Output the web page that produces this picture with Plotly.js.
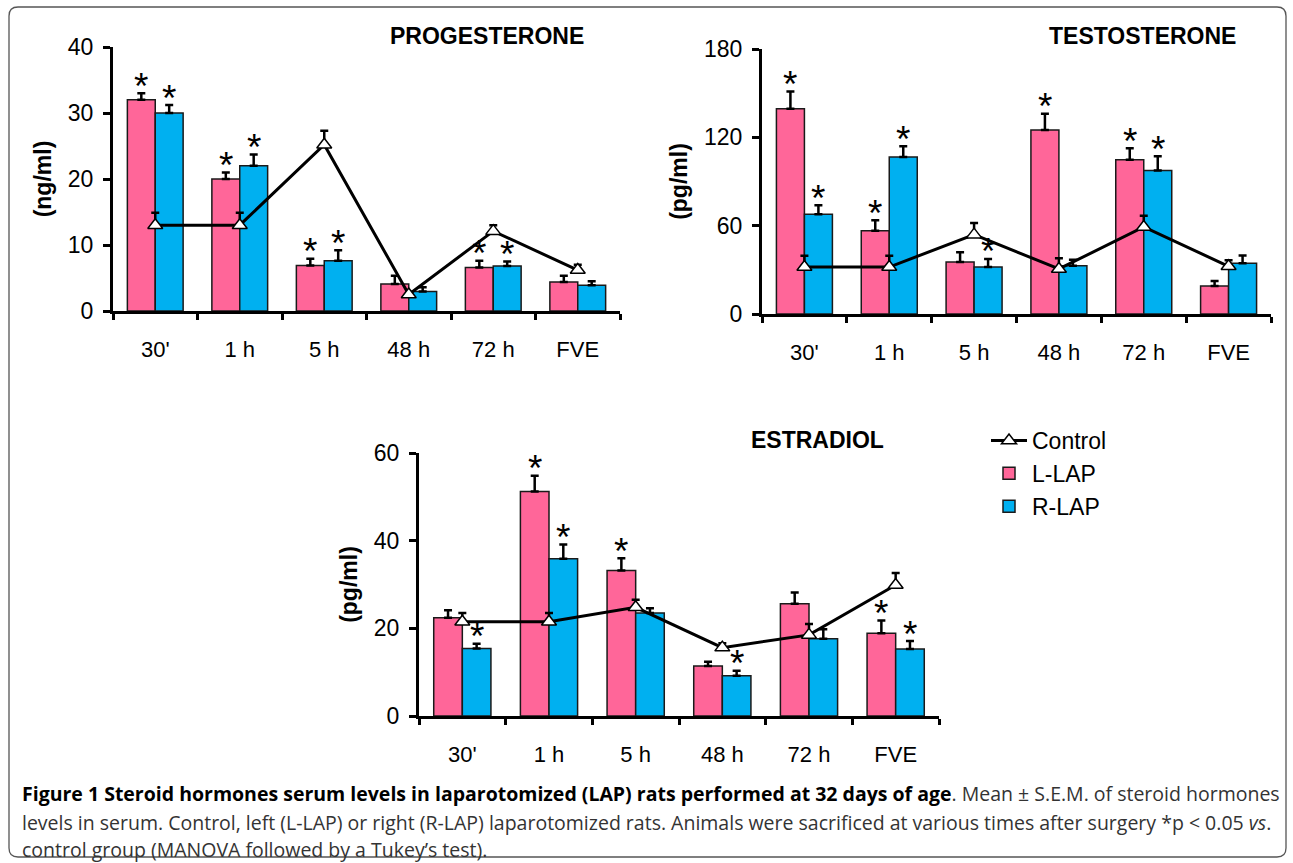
<!DOCTYPE html>
<html>
<head>
<meta charset="utf-8">
<script src="https://cdn.plot.ly/plotly-3.0.1.min.js"></script>
<style>html,body{margin:0;padding:0;background:#fff;}#chart{width:1293px;height:863px;}</style>
</head>
<body>
<div id="chart"></div>
<script>
// ---------- data ----------
const categories = ["30'", "1 h", "5 h", "48 h", "72 h", "FVE"];
const seriesNames = ["Control", "L-LAP", "R-LAP"];
const panelTitles = ["PROGESTERONE", "TESTOSTERONE", "ESTRADIOL"];
const unitLabels = ["(ng/ml)", "(pg/ml)", "(pg/ml)"];
const yTickValues1 = [0, 10, 20, 30, 40];
const yTickValues2 = [0, 60, 120, 180];
const yTickValues3 = [0, 20, 40, 60];

// Progesterone (ng/ml)
const progControl = [13.0, 13.0, 25.2, 2.5, 12.1, 6.2];
const progControlErr = [1.9, 1.9, 2.1, 0.0, 0.9, 0.8];
const progL = [32.0, 20.0, 6.9, 4.1, 6.6, 4.4];
const progLErr = [1.0, 1.0, 1.0, 1.25, 1.0, 0.95];
const progR = [30.0, 22.0, 7.6, 2.95, 6.8, 3.9];
const progRErr = [1.2, 1.7, 1.6, 0.65, 0.7, 0.6];
const progLStar = [1, 1, 1, 0, 1, 0];
const progRStar = [1, 1, 1, 0, 1, 0];

// Testosterone (pg/ml)
const testControl = [31.9, 31.9, 53.9, 30.6, 59.1, 32.4];
const testControlErr = [7.7, 7.7, 7.9, 7.2, 7.7, 4.1];
const testL = [139.5, 56.6, 35.3, 125.0, 104.8, 19.0];
const testLErr = [11.7, 7.0, 6.6, 11.1, 7.7, 3.4];
const testR = [67.7, 106.6, 31.9, 32.8, 97.4, 34.4];
const testRErr = [6.1, 7.3, 5.5, 4.1, 9.7, 5.4];
const testLStar = [1, 1, 0, 1, 1, 0];
const testRStar = [1, 1, 1, 0, 1, 0];

// Estradiol (pg/ml)
const estrControl = [21.5, 21.5, 24.8, 15.6, 18.5, 29.9];
const estrControlErr = [2.0, 2.0, 1.7, 1.0, 2.5, 2.7];
const estrL = [22.4, 51.2, 33.2, 11.4, 25.6, 18.9];
const estrLErr = [1.7, 3.6, 2.8, 1.0, 2.6, 2.9];
const estrR = [15.4, 35.9, 23.5, 9.2, 17.6, 15.3];
const estrRErr = [1.1, 3.2, 1.1, 1.1, 2.2, 1.8];
const estrLStar = [0, 1, 1, 0, 0, 1];
const estrRStar = [1, 1, 0, 1, 0, 1];

const captionBold = "Figure 1 Steroid hormones serum levels in laparotomized (LAP) rats performed at 32 days of age";
const captionLine1 = ". Mean ± S.E.M. of steroid hormones";
const captionLine2 = "levels in serum. Control, left (L-LAP) or right (R-LAP) laparotomized rats. Animals were sacrificed at various times after surgery *p &lt; 0.05 <i>vs</i>.";
const captionLine3 = "control group (MANOVA followed by a Tukey’s test).";

// ---------- styles ----------
const W = 1293, H = 863;
const PINK = '#FF6699', BLUE = '#00B0F0';
const FONT = 'Liberation Sans, Arial, sans-serif';
const BARGAP = 0.34;
const OFF = (1 - BARGAP) / 4;

const px = v => v / W;
const py = v => (H - v) / H;

const panels = [
  {n: '', C: progControl, Ce: progControlErr, L: progL, Le: progLErr, R: progR, Re: progRErr, Ls: progLStar, Rs: progRStar,
   range: [0, 40], ticks: yTickValues1, xd: [113, 620], yd: [311, 47], title: panelTitles[0], tpos: [487, 36], unit: unitLabels[0], legend: true},
  {n: '2', C: testControl, Ce: testControlErr, L: testL, Le: testLErr, R: testR, Re: testRErr, Ls: testLStar, Rs: testRStar,
   range: [0, 180], ticks: yTickValues2, xd: [762, 1271], yd: [314, 49], title: panelTitles[1], tpos: [1142, 36], unit: unitLabels[1], legend: false},
  {n: '3', C: estrControl, Ce: estrControlErr, L: estrL, Le: estrLErr, R: estrR, Re: estrRErr, Ls: estrLStar, Rs: estrRStar,
   range: [0, 60], ticks: yTickValues3, xd: [419, 939], yd: [716, 453], title: panelTitles[2], tpos: [817, 440], unit: unitLabels[2], legend: false}
];

const traces = [];
const annotations = [];
const layout = {
  width: W, height: H,
  margin: {l: 0, r: 0, t: 0, b: 0},
  paper_bgcolor: '#fff', plot_bgcolor: 'rgba(0,0,0,0)',
  font: {family: FONT, color: '#000', size: 20},
  barmode: 'group', bargap: BARGAP, bargroupgap: 0,
  showlegend: true,
  legend: {x: px(986), y: py(419), xanchor: 'left', yanchor: 'top', bgcolor: 'rgba(0,0,0,0)',
           font: {family: FONT, size: 23, color: '#000'}, traceorder: 'normal', itemwidth: 36, tracegroupgap: 0},
  annotations: annotations,
  shapes: []
};

const errStyle = (arr) => ({type: 'data', array: arr, arrayminus: arr.map(() => 0), symmetric: false,
  visible: true, color: '#000', thickness: 2.5, width: 4});

panels.forEach(p => {
  const xa = 'x' + p.n, ya = 'y' + p.n;
  traces.push({type: 'bar', name: seriesNames[1], x: categories, y: p.L, xaxis: xa, yaxis: ya,
    marker: {color: PINK, line: {color: '#1a1a1a', width: 1.5}}, error_y: errStyle(p.Le),
    showlegend: p.legend, legendrank: 2, legendgroup: 'L', hoverinfo: 'skip'});
  traces.push({type: 'bar', name: seriesNames[2], x: categories, y: p.R, xaxis: xa, yaxis: ya,
    marker: {color: BLUE, line: {color: '#1a1a1a', width: 1.5}}, error_y: errStyle(p.Re),
    showlegend: p.legend, legendrank: 3, legendgroup: 'R', hoverinfo: 'skip'});
  traces.push({type: 'scatter', mode: 'lines+markers', name: seriesNames[0], x: categories, y: p.C, xaxis: xa, yaxis: ya,
    line: {color: '#000', width: 3}, marker: {symbol: 'triangle-up', size: 13, color: '#fff', line: {color: '#000', width: 1.5}},
    error_y: errStyle(p.Ce), showlegend: p.legend, legendrank: 1, legendgroup: 'C', hoverinfo: 'skip'});

  layout['xaxis' + p.n] = {domain: [px(p.xd[0]), px(p.xd[1])], anchor: ya, type: 'category',
    showline: true, linecolor: '#000', linewidth: 3, ticks: 'outside', tickson: 'boundaries', ticklen: 6, tickwidth: 3, tickcolor: '#000',
    showgrid: false, zeroline: false, tickfont: {family: FONT, size: 22, color: '#000'}, ticklabelstandoff: 17, fixedrange: true};
  layout['yaxis' + p.n] = {domain: [py(p.yd[0]), py(p.yd[1])], anchor: xa, range: p.range,
    tickmode: 'array', tickvals: p.ticks, showline: true, linecolor: '#000', linewidth: 3, ticks: 'outside', ticklen: 7, tickwidth: 3,
    tickcolor: '#000', showgrid: false, zeroline: false, tickfont: {family: FONT, size: 23, color: '#000'}, ticklabelstandoff: 5,
    title: {text: '<b>' + p.unit + '</b>', font: {family: FONT, size: 23, color: '#000'}, standoff: 10}, fixedrange: true};

  annotations.push({xref: 'paper', yref: 'paper', x: px(p.tpos[0]), y: py(p.tpos[1]), xanchor: 'center', yanchor: 'middle',
    text: '<b>' + p.title + '</b>', showarrow: false, font: {family: FONT, size: 23, color: '#000'}});

  categories.forEach((c, i) => {
    if (p.Ls[i]) annotations.push({xref: xa, yref: ya, x: i - OFF, y: p.L[i] + p.Le[i], text: '*', showarrow: false,
      xanchor: 'center', yanchor: 'middle', yshift: 7, font: {family: FONT, size: 37, color: '#000'}});
    if (p.Rs[i]) annotations.push({xref: xa, yref: ya, x: i + OFF, y: p.R[i] + p.Re[i], text: '*', showarrow: false,
      xanchor: 'center', yanchor: 'middle', yshift: 7, font: {family: FONT, size: 37, color: '#000'}});
  });
});

// caption
const CAP = 'Open Sans, sans-serif';
annotations.push({xref: 'paper', yref: 'paper', x: px(20), y: py(793), xanchor: 'left', yanchor: 'middle', showarrow: false,
  text: '<b>' + captionBold + '</b><span style="color:#333">' + captionLine1 + '</span>', font: {family: CAP, size: 19.5, color: '#000'}});
annotations.push({xref: 'paper', yref: 'paper', x: px(20), y: py(822), xanchor: 'left', yanchor: 'middle', showarrow: false,
  text: captionLine2, font: {family: CAP, size: 19.5, color: '#333'}});
annotations.push({xref: 'paper', yref: 'paper', x: px(20), y: py(849), xanchor: 'left', yanchor: 'middle', showarrow: false,
  text: captionLine3, font: {family: CAP, size: 19.5, color: '#333'}});

// rounded figure border
(function () {
  const x0 = px(9), x1 = px(1286), y0 = py(857), y1 = py(7), rx = px(9), ry = 9 / H;
  const path = `M ${x0 + rx},${y1} L ${x1 - rx},${y1} Q ${x1},${y1} ${x1},${y1 - ry} L ${x1},${y0 + ry} Q ${x1},${y0} ${x1 - rx},${y0} ` +
    `L ${x0 + rx},${y0} Q ${x0},${y0} ${x0},${y0 + ry} L ${x0},${y1 - ry} Q ${x0},${y1} ${x0 + rx},${y1} Z`;
  layout.shapes.push({type: 'path', xref: 'paper', yref: 'paper', path: path, line: {color: '#555', width: 1.3}, layer: 'below'});
})();

Plotly.newPlot('chart', traces, layout, {staticPlot: true, displayModeBar: false});
</script>
</body>
</html>
